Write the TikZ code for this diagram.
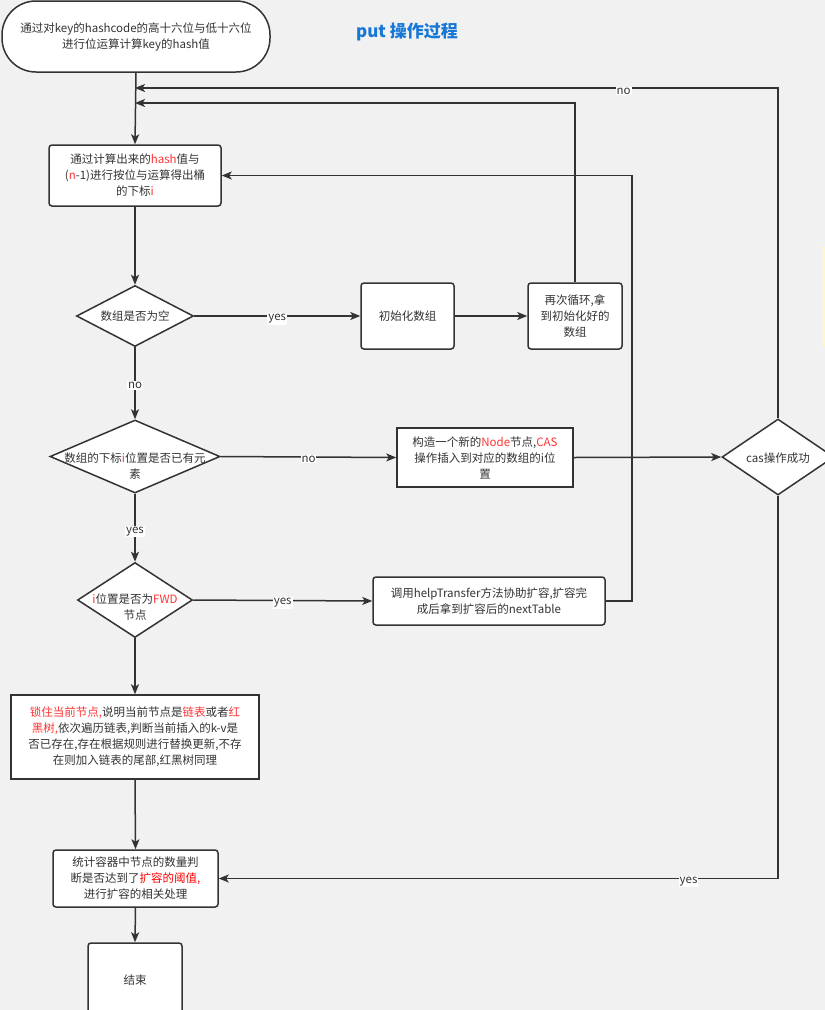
\documentclass[tikz,border=0pt]{standalone}
\usepackage{fontspec}
\setmainfont{Noto Sans CJK SC}
\usetikzlibrary{shapes.geometric,arrows.meta}
\definecolor{bg}{HTML}{F1F1F1}
\definecolor{lc}{HTML}{333333}
\definecolor{tc}{HTML}{333333}
\definecolor{hl}{HTML}{FF3333}
\definecolor{hr}{HTML}{FF0000}
\definecolor{ttl}{HTML}{1777D4}
\definecolor{ylw}{HTML}{FFF9C0}
\newcommand{\hlt}[1]{\textcolor{hl}{#1}}
\tikzset{
  line/.style={draw=lc, line width=1.5pt},
  arr/.style={line, -{Stealth[length=10pt,width=8pt,inset=2.5pt]}},
  txt/.style={align=center, text=tc, font=\fontsize{11.5}{16}\selectfont},
  box/.style={txt, draw=lc, line width=1.5pt, fill=white, rounded corners=3pt, inner sep=0pt},
  sqbox/.style={txt, draw=lc, line width=1.5pt, fill=white, inner sep=0pt},
  dia/.style={diamond, draw=lc, line width=1.5pt, fill=white, inner sep=0pt},
  lbl/.style={fill=white, text=tc, font=\fontsize{11.5}{13}\selectfont, inner sep=1pt}
}
\begin{document}
\begin{tikzpicture}[x=1pt,y=-1pt]
\fill[bg] (0,0) rectangle (825,1010);
\useasboundingbox (0,0) rectangle (825,1010);
\clip (0,0) rectangle (825,1010);
\fill[ylw] (823,247) rectangle (826,347);

% title
\node[text=ttl, font=\fontsize{17}{20}\selectfont\bfseries] (title) at (407,32) {put 操作过程};

% nodes
\node[box, rounded corners=34pt, minimum width=268pt, minimum height=71pt] (start) at (136,36.5)
  {通过对key的hashcode的高十六位与低十六位\\进行位运算计算key的hash值};
\node[box, minimum width=172pt, minimum height=61pt] (b1) at (135,175.5)
  {通过计算出来的\hlt{hash}值与\\(\hlt{n}-1)进行按位与运算得出桶\\的下标\hlt{i}};
\node[dia, minimum width=117pt, minimum height=61pt] (d1) at (135,316) {};
\node[txt] (d1t) at (d1.center) {数组是否为空};
\node[box, minimum width=93pt, minimum height=66pt] (init) at (407.5,316) {初始化数组};
\node[box, minimum width=94pt, minimum height=66pt] (again) at (575,316)
  {再次循环,拿\\到初始化好的\\数组};
\node[dia, minimum width=170pt, minimum height=73pt] (d2) at (135,456.5) {};
\node[txt] (d2t) at (135,466) {数组的下标\hlt{i}位置是否已有元\\素};
\node[sqbox, minimum width=176pt, minimum height=59pt] (cbox) at (485,457.5)
  {构造一个新的\hlt{Node}节点,\hlt{CAS}\\操作插入到对应的数组的i位\\置};
\node[dia, minimum width=112pt, minimum height=76pt] (cas) at (778,457) {};
\node[txt] (cast) at (778,458) {cas操作成功};
\node[dia, minimum width=115pt, minimum height=75pt] (d3) at (135,600) {};
\node[txt] (d3t) at (135,607.5) {\hlt{i}位置是否为\hlt{FWD}\\节点};
\node[box, minimum width=232pt, minimum height=48pt] (help) at (489,601)
  {调用helpTransfer方法协助扩容,扩容完\\成后拿到扩容后的nextTable};
\node[sqbox, minimum width=248pt, minimum height=84pt] (big) at (135,737)
  {\hlt{锁住当前节点,}说明当前节点是\hlt{链表}或者\hlt{红}\\\hlt{黑树,}依次遍历链表,判断当前插入的k-v是\\否已存在,存在根据规则进行替换更新,不存\\在则加入链表的尾部,红黑树同理};
\node[box, minimum width=165pt, minimum height=57pt] (stat) at (135.5,878.5)
  {统计容器中节点的数量判\\断是否达到了\textcolor{hr}{扩容的阈值,}\\进行扩容的相关处理};
\node[box, minimum width=94pt, minimum height=74pt] (end) at (135,980) {结束};

% junction coordinates on main line
\coordinate (m1) at (135,88);
\coordinate (m2) at (135,103);
\coordinate (h1) at (632,601);
\coordinate (h2) at (632,175.5);

% connectors
\draw[arr] (start.south) -- (b1.north);
\draw[arr] (cas.north) |- (m1) node[lbl, pos=0.62, yshift=-3pt] {no};
\draw[arr] (again.north) |- (m2);
\draw[arr] (help.east) -- (h1) -- (h2) -- (b1.east);
\draw[arr] (b1.south) -- (d1.north);
\draw[arr] (d1.east) -- node[lbl, yshift=-3pt] {yes} (init.west);
\draw[arr] (init.east) -- (again.west);
\draw[arr] (d1.south) -- node[lbl, yshift=-2pt] {no} (d2.north);
\draw[arr] (d2.east) -- node[lbl, yshift=-2pt] {no} (cbox.west);
\draw[arr] (cbox.east) -- (cas.west);
\draw[arr] (d2.south) -- node[lbl, pos=0.55] {yes} (d3.north);
\draw[arr] (d3.east) -- node[lbl, yshift=-2.5pt] {yes} (help.west);
\draw[arr] (d3.south) -- (big.north);
\draw[arr] (big.south) -- (stat.north);
\draw[arr] (cas.south) |- (stat.east) node[lbl, pos=0.58, yshift=-3pt] {yes};
\draw[arr] (stat.south) -- (end.north);
\end{tikzpicture}
\end{document}
